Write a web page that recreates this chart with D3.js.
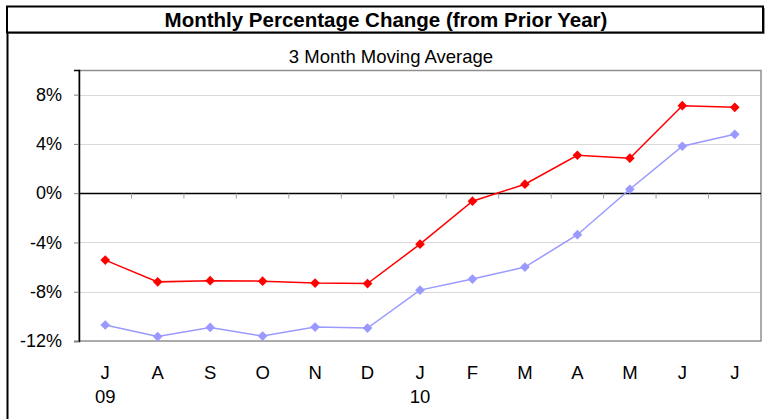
<!DOCTYPE html>
<html><head><meta charset="utf-8">
<script src="https://cdn.jsdelivr.net/npm/d3@7"></script>
<style>body{margin:0;background:#fff;}svg{display:block;font-family:"Liberation Sans",Arial,sans-serif;}</style>
</head><body>
<svg id="c" width="765" height="419"></svg>
<script>
const months = ["J","A","S","O","N","D","J","F","M","A","M","J","J"];
const years = ["09","","","","","","10","","","","","",""];
const seriesRed = [-5.43,-7.2,-7.1,-7.14,-7.3,-7.34,-4.14,-0.65,0.73,3.08,2.84,7.1,6.97];
const seriesBlue = [-10.7,-11.64,-10.9,-11.6,-10.87,-10.95,-7.87,-6.97,-6.0,-3.37,0.32,3.81,4.78];
const yTicks = [-12,-8,-4,0,4,8];

const svg = d3.select("#c");
// outer frame left border
svg.append("line").attr("x1",7.5).attr("x2",7.5).attr("y1",33).attr("y2",419).attr("stroke","#000").attr("stroke-width",2);
// title box shadow + box
svg.append("rect").attr("x",8).attr("y",8).attr("width",757).attr("height",26).attr("fill","#999");
svg.append("rect").attr("x",7).attr("y",6.5).attr("width",756).attr("height",26).attr("fill","#fff").attr("stroke","#000").attr("stroke-width",2);
svg.append("text").attr("x",386).attr("y",27).attr("text-anchor","middle").attr("font-weight","bold").attr("font-size",20.5).text("Monthly Percentage Change (from Prior Year)");
svg.append("text").attr("x",391).attr("y",63).attr("text-anchor","middle").attr("font-size",18.5).text("3 Month Moving Average");

const L=79,R=761,T=70,B=341;
const x = d3.scaleBand().domain(d3.range(months.length)).range([L,R]);
const y = d3.scaleLinear().domain([-12,10]).range([B,T]);

const g = svg.append("g");
// gridlines
g.selectAll(".grid").data(yTicks.filter(d=>d!==0&&d!==-12)).join("line")
 .attr("x1",L).attr("x2",R).attr("y1",d=>Math.round(y(d))+0.5).attr("y2",d=>Math.round(y(d))+0.5)
 .attr("stroke","#d9d9d9").attr("stroke-width",1);
// plot border
g.append("rect").attr("x",L).attr("y",T+0.5).attr("width",R-L).attr("height",B-T-0.5).attr("fill","none").attr("stroke","#909090").attr("stroke-width",1.5);
// y axis
const yAxis = d3.axisLeft(y).tickValues(yTicks).tickSize(5).tickPadding(12).tickFormat(d=>d+"%");
const ya = g.append("g").attr("transform",`translate(${L},0)`).call(yAxis);
ya.select(".domain").attr("stroke","#000").attr("stroke-width",1.5);
ya.selectAll(".tick line").attr("stroke","#808080");
ya.selectAll("text").attr("font-size",18).attr("fill","#000").attr("font-family","Liberation Sans, Arial, sans-serif");
// zero line with ticks
const y0 = Math.round(y(0))+0.5;
g.append("line").attr("x1",L).attr("x2",R).attr("y1",y0).attr("y2",y0).attr("stroke","#000").attr("stroke-width",1.5);
const xa = g.append("g").attr("transform",`translate(0,${y0})`).call(d3.axisBottom(x).tickSize(0).tickFormat(""));
xa.select(".domain").remove();
g.selectAll(".xt").data(d3.range(1,months.length)).join("line")
 .attr("x1",d=>x(d)).attr("x2",d=>x(d)).attr("y1",y0).attr("y2",y0+5).attr("stroke","#a0a0a0");
// x labels
g.selectAll(".ml").data(months).join("text").attr("x",(d,i)=>x(i)+x.bandwidth()/2).attr("y",379)
 .attr("text-anchor","middle").attr("font-size",18.5).text(d=>d);
g.selectAll(".yl").data(years).join("text").attr("x",(d,i)=>x(i)+x.bandwidth()/2).attr("y",403)
 .attr("text-anchor","middle").attr("font-size",18.5).text(d=>d);

const cx = i=>x(i)+x.bandwidth()/2;
const line = d3.line().x((d,i)=>cx(i)).y(d=>y(d));
const diamond = d3.symbol().type(d3.symbolDiamond2).size(60);
function draw(data,color,w){
  g.append("path").datum(data).attr("d",line).attr("fill","none").attr("stroke",color).attr("stroke-width",w);
  g.selectAll(null).data(data).join("path").attr("d",diamond)
   .attr("transform",(d,i)=>`translate(${cx(i)},${y(d)})`).attr("fill",color);
}
draw(seriesBlue,"#9999ff",1.5);
draw(seriesRed,"#ff0000",1.5);
</script>
</body></html>
